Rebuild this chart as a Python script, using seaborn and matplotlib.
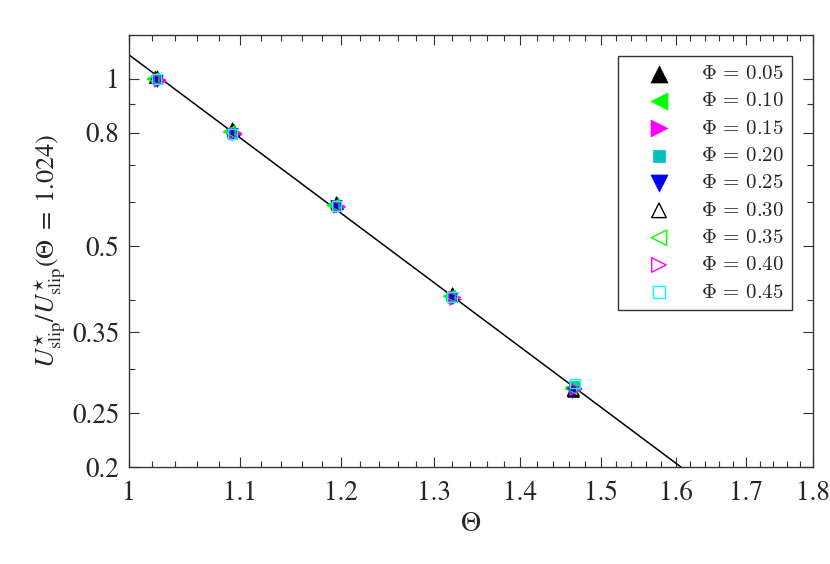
import numpy as np
import pandas as pd
import matplotlib
matplotlib.use("Agg")
import matplotlib.pyplot as plt
import seaborn as sns
from matplotlib.ticker import FixedLocator, NullFormatter
from matplotlib.font_manager import FontProperties

sns.set_theme(style="ticks")
plt.rcParams['font.family'] = ['STIXGeneral', 'DejaVu Serif']
plt.rcParams['mathtext.fontset'] = 'stix'

# ---- data ----
phi_labels = ["0.05", "0.10", "0.15", "0.20", "0.25", "0.30", "0.35", "0.40", "0.45"]
theta_vals = [
    [1.024, 1.093, 1.195, 1.320, 1.465],
    [1.021, 1.090, 1.192, 1.317, 1.462],
    [1.027, 1.096, 1.198, 1.323, 1.468],
    [1.024, 1.093, 1.195, 1.320, 1.466],
    [1.024, 1.093, 1.195, 1.320, 1.464],
    [1.023, 1.094, 1.196, 1.321, 1.465],
    [1.021, 1.090, 1.192, 1.317, 1.462],
    [1.027, 1.096, 1.198, 1.323, 1.468],
    [1.024, 1.093, 1.195, 1.320, 1.467],
]
ratio_vals = [
    [1.012, 0.815, 0.601, 0.411, 0.274],
    [1.000, 0.805, 0.595, 0.406, 0.277],
    [0.990, 0.795, 0.588, 0.402, 0.278],
    [1.000, 0.800, 0.593, 0.405, 0.280],
    [0.992, 0.797, 0.590, 0.403, 0.273],
    [1.006, 0.808, 0.596, 0.409, 0.275],
    [1.000, 0.803, 0.592, 0.406, 0.277],
    [0.995, 0.798, 0.589, 0.404, 0.276],
    [1.000, 0.796, 0.590, 0.405, 0.283],
]
fit_theta = [1.0, 1.607]
fit_ratio = [1.105, 0.200]

x_ticks = [1, 1.1, 1.2, 1.3, 1.4, 1.5, 1.6, 1.7, 1.8]
x_tick_labels = ["1", "1.1", "1.2", "1.3", "1.4", "1.5", "1.6", "1.7", "1.8"]
y_ticks = [0.2, 0.25, 0.35, 0.5, 0.8, 1.0]
y_tick_labels = ["0.2", "0.25", "0.35", "0.5", "0.8", "1"]
y_minor = [0.3, 0.4, 0.6, 0.7, 0.9]

# ---- styles ----
markers = ['^', '<', '>', 's', 'v', '^', '<', '>', 's']
colors = ['black', '#00ff00', '#ff00ff', '#00bfbf', '#0000ff',
          'black', '#00ff00', '#ff00ff', '#00ffff']
filled = [True] * 5 + [False] * 4
plot_sizes = [70, 70, 70, 45, 70, 70, 70, 70, 45]
legend_sizes = [150, 150, 150, 72, 150, 110, 120, 110, 72]

fig = plt.figure(figsize=(8.3, 5.64), dpi=100)
ax = fig.add_axes([0.1554, 0.172, 0.824, 0.766])

sns.lineplot(x=fit_theta, y=fit_ratio, ax=ax, color='black', linewidth=1.1,
             zorder=1, legend=False)

for lab, th, r, m, c, f, s in zip(phi_labels, theta_vals, ratio_vals, markers, colors, filled, plot_sizes):
    df = pd.DataFrame({"theta": th, "ratio": r})
    if f:
        sns.scatterplot(data=df, x="theta", y="ratio", ax=ax, marker=m, s=s,
                        color=c, edgecolor=c, linewidth=0.5,
                        label=r"$\Phi\,=\,%s$" % lab, zorder=3)
    else:
        sns.scatterplot(data=df, x="theta", y="ratio", ax=ax, marker=m, s=s,
                        facecolor='none', edgecolor=c, linewidth=1.0,
                        label=r"$\Phi\,=\,%s$" % lab, zorder=3)

ax.set_xscale('log')
ax.set_yscale('log')
ax.set_xlim(1.0, 1.8)
ax.set_ylim(0.2, 1.2)

ax.xaxis.set_major_locator(FixedLocator(x_ticks))
ax.set_xticklabels(x_tick_labels)
xminor = [round(1.0 + 0.02 * i, 2) for i in range(41)]
xminor = [v for v in xminor if all(abs(v - t) > 1e-9 for t in x_ticks)]
ax.xaxis.set_minor_locator(FixedLocator(xminor))
ax.xaxis.set_minor_formatter(NullFormatter())

ax.yaxis.set_major_locator(FixedLocator(y_ticks))
ax.set_yticklabels(y_tick_labels)
ax.yaxis.set_minor_locator(FixedLocator(y_minor))
ax.yaxis.set_minor_formatter(NullFormatter())

ax.tick_params(which='both', direction='in', top=True, right=True,
               colors='#333333', labelcolor='#262626')
ax.tick_params(which='major', length=7, width=0.8, labelsize=19.5)
ax.tick_params(axis='x', which='major', pad=10)
ax.tick_params(axis='y', which='major', pad=7)
ax.tick_params(which='minor', length=4, width=0.8)
for sp in ax.spines.values():
    sp.set_color('#333333')
    sp.set_linewidth(1.0)

ax.set_xlabel(r"$\Theta$", fontsize=20, color='#262626', labelpad=4)
ax.set_ylabel(r"$U^{\star}_{\rm slip}/U^{\star}_{\rm slip}(\Theta\;=\;1.024)$",
              fontsize=19, color='#262626', labelpad=3)

leg_font = FontProperties(family='DejaVu Serif', size=15, math_fontfamily='cm')
leg = ax.legend(loc='upper right', prop=leg_font, frameon=True, fancybox=False,
                edgecolor='#333333', framealpha=1, borderaxespad=1.0,
                markerscale=1.0, handletextpad=0.46, labelspacing=0.4,
                borderpad=0.4, handlelength=3.1)
leg.get_frame().set_linewidth(1.0)
for h, s in zip(leg.legend_handles, legend_sizes):
    h.set_sizes([s])

fig.savefig("out.png", dpi=100)
